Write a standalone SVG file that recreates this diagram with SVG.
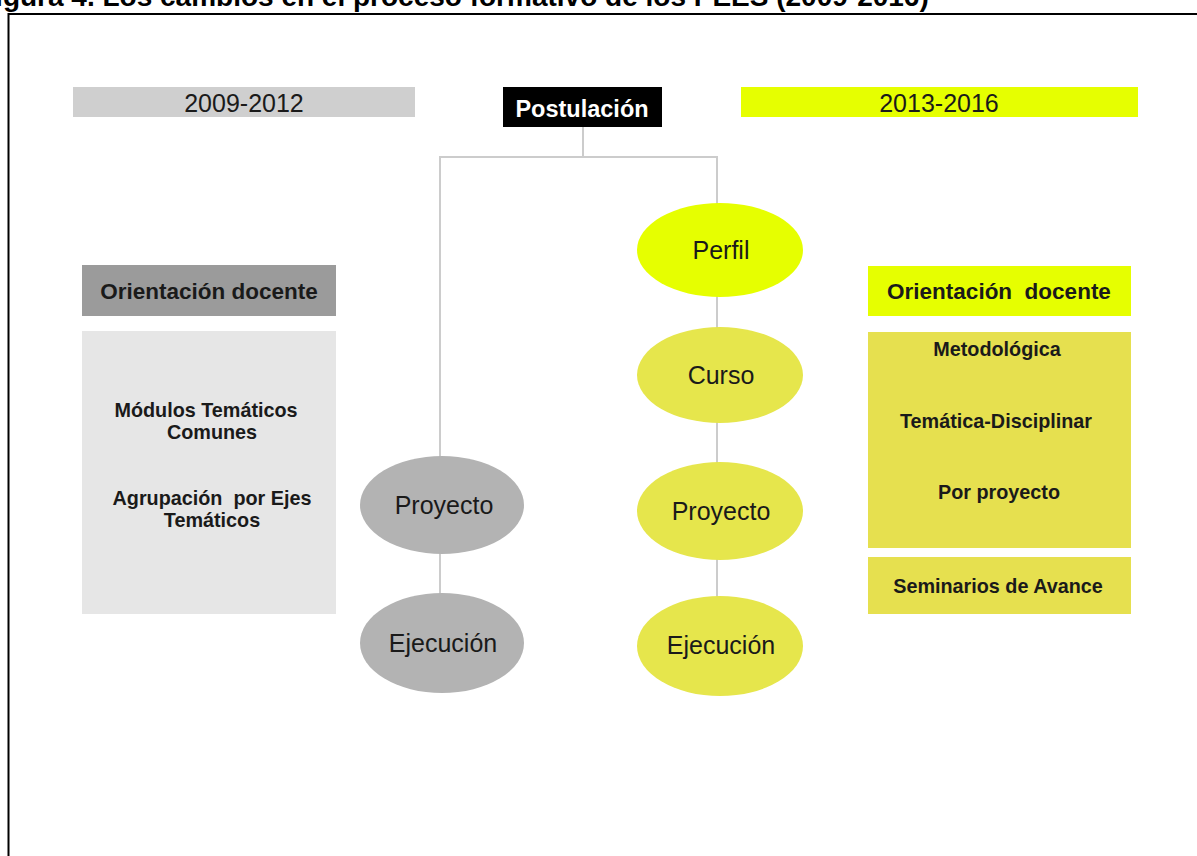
<svg xmlns="http://www.w3.org/2000/svg" width="1197" height="856" viewBox="0 0 1197 856">
<style>
  text { font-family: "Liberation Sans", Arial, sans-serif; fill: #1a1a1a; text-anchor: middle; }
  .b { font-weight: bold; }
  .yr { font-size: 25px; }
  .oval { font-size: 25px; }
  .hd { font-size: 22.5px; font-weight: bold; }
  .bd { font-size: 19.8px; font-weight: bold; }
  .conn { stroke: #cccccc; stroke-width: 2; fill: none; }
</style>
<rect width="1197" height="856" fill="#ffffff"/>
<text class="b" x="-22" y="5.5" style="font-size:28px;text-anchor:start;fill:#000">Figura 4. Los cambios en el proceso formativo de los PEES (2009-2016)</text>
<rect x="8.5" y="14" width="1200" height="900" fill="#ffffff" stroke="#000000" stroke-width="2"/>

<g id="connectors">
  <polyline class="conn" points="583,127 583,157"/>
  <polyline class="conn" points="440,457 440,157 717,157 717,205"/>
  <line class="conn" x1="440" y1="550" x2="440" y2="596"/>
  <line class="conn" x1="717" y1="295" x2="717" y2="330"/>
  <line class="conn" x1="717" y1="420" x2="717" y2="465"/>
  <line class="conn" x1="717" y1="556" x2="717" y2="600"/>
</g>

<g id="label-2009">
  <rect x="73" y="87" width="342" height="30" fill="#cfcfcf"/>
  <text class="yr" x="244" y="112">2009-2012</text>
</g>
<g id="postulacion">
  <rect x="503" y="87" width="159" height="40" fill="#000000"/>
  <text class="b" x="582" y="117" style="font-size:23.5px;fill:#ffffff">Postulación</text>
</g>
<g id="label-2013">
  <rect x="741" y="87" width="397" height="30" fill="#e6ff00"/>
  <text class="yr" x="939" y="112">2013-2016</text>
</g>

<g id="left-orientacion">
  <rect x="82" y="265" width="254" height="51" fill="#9b9b9b"/>
  <text class="hd" x="209" y="299">Orientación docente</text>
</g>
<g id="left-contenido">
  <rect x="82" y="331" width="254" height="283" fill="#e6e6e6"/>
  <text class="bd" x="206" y="417">Módulos Temáticos</text>
  <text class="bd" x="212" y="439">Comunes</text>
  <text class="bd" x="212" y="505" xml:space="preserve">Agrupación  por Ejes</text>
  <text class="bd" x="212" y="527">Temáticos</text>
</g>

<g id="left-proyecto">
  <ellipse cx="442" cy="505" rx="82" ry="49" fill="#b3b3b3"/>
  <text class="oval" x="444" y="514">Proyecto</text>
</g>
<g id="left-ejecucion">
  <ellipse cx="442" cy="643" rx="82" ry="50" fill="#b3b3b3"/>
  <text class="oval" x="443" y="652">Ejecución</text>
</g>

<g id="perfil">
  <ellipse cx="720" cy="250" rx="83" ry="47" fill="#e6ff00"/>
  <text class="oval" x="721" y="259">Perfil</text>
</g>
<g id="curso">
  <ellipse cx="720" cy="375" rx="83" ry="48" fill="#e6e64c"/>
  <text class="oval" x="721" y="384">Curso</text>
</g>
<g id="right-proyecto">
  <ellipse cx="720" cy="511" rx="83" ry="49" fill="#e6e64c"/>
  <text class="oval" x="721" y="520">Proyecto</text>
</g>
<g id="right-ejecucion">
  <ellipse cx="720" cy="646" rx="83" ry="50" fill="#e6e64c"/>
  <text class="oval" x="721" y="654">Ejecución</text>
</g>

<g id="right-orientacion">
  <rect x="868" y="266" width="263" height="50" fill="#e6ff00"/>
  <text class="hd" x="999" y="299" xml:space="preserve">Orientación  docente</text>
</g>
<g id="right-contenido">
  <rect x="868" y="332" width="263" height="216" fill="#e6e04f"/>
  <text class="bd" x="997" y="356">Metodológica</text>
  <text class="bd" x="996" y="428">Temática-Disciplinar</text>
  <text class="bd" x="999" y="499">Por proyecto</text>
</g>
<g id="seminarios">
  <rect x="868" y="557" width="263" height="57" fill="#e6e04f"/>
  <text class="bd" x="998" y="593">Seminarios de Avance</text>
</g>
</svg>
